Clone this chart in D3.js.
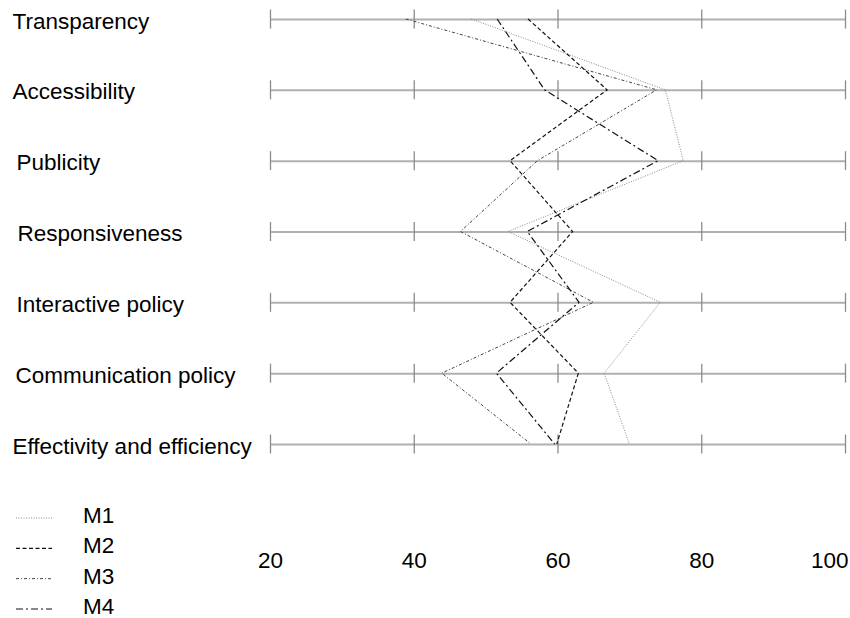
<!DOCTYPE html>
<html><head><meta charset="utf-8">
<script src="https://cdn.jsdelivr.net/npm/d3@7"></script>
<style>
body{margin:0;background:#fff}
svg{display:block}
text{font-family:"Liberation Sans",Arial,sans-serif;fill:#000}
</style>
</head><body>
<svg id="c" width="850" height="618"></svg>
<script>
const categories = ["Transparency","Accessibility","Publicity","Responsiveness","Interactive policy","Communication policy","Effectivity and efficiency"];
const seriesNames = ["M1","M2","M3","M4"];
const m1 = [48.0, 75.0, 77.5, 53.1, 74.3, 66.5, 70.0];
const m2 = [55.9, 66.9, 53.4, 62.1, 53.4, 62.9, 59.9];
const m3 = [38.9, 73.8, 57.2, 46.5, 65.0, 43.9, 56.3];
const m4 = [51.6, 58.2, 74.0, 55.8, 63.0, 51.5, 59.6];
const tickValues = [20, 40, 60, 80, 100];

// layout (not data)
const labelNudge = [0, 0, 4, 5, 4, 3, 0];
const seriesValues = [m1, m2, m3, m4];
const styles = [
  {stroke:"#8a8a8a", width:1, dash:"1,1.5"},
  {stroke:"#111", width:1.2, dash:"4,2.5"},
  {stroke:"#444", width:1, dash:"3,2,1,2"},
  {stroke:"#111", width:1.2, dash:"7,3,2,3"}
];

const svg = d3.select("#c");
const x = d3.scaleLinear().domain([20, 100]).range([270, 845]);
const y = d3.scalePoint().domain(categories).range([19, 444]);
const FS = 22.5;

// row axes
categories.forEach(c => {
  const g = svg.append("g").attr("transform", `translate(0,${y(c)})`)
    .call(d3.axisBottom(x).tickValues(tickValues).tickSize(9).tickSizeOuter(0).tickFormat(""));
  g.select(".domain").attr("stroke", "#b0b0b0").attr("stroke-width", 2);
  g.selectAll(".tick line").attr("y1", -9.5).attr("y2", 9.5).attr("stroke", "#8c8c8c").attr("stroke-width", 1.3);
});

// category labels
svg.append("g").selectAll("text").data(categories).join("text")
  .attr("x", (d, i) => 12.5 + labelNudge[i]).attr("y", d => y(d) + 9.5)
  .attr("font-size", FS).text(d => d);

// bottom tick labels
const ax = svg.append("g").attr("transform", "translate(0,552)")
  .call(d3.axisBottom(x).tickValues(tickValues).tickSize(0).tickPadding(0).tickFormat(d3.format("d")));
ax.select(".domain").remove();
ax.selectAll(".tick text").attr("font-size", FS).attr("font-family", '"Liberation Sans",Arial,sans-serif').attr("fill", "#000").attr("dy", "0.72em");
ax.selectAll(".tick").filter(d => d === 100).select("text").attr("text-anchor", "end").attr("x", 3);

// series
const line = d3.line().x(d => x(d)).y((d, i) => y(categories[i]));
svg.append("g").selectAll("path").data(seriesValues).join("path")
  .attr("d", d => line(d))
  .attr("fill", "none")
  .attr("stroke", (d, i) => styles[i].stroke)
  .attr("stroke-width", (d, i) => styles[i].width)
  .attr("stroke-dasharray", (d, i) => styles[i].dash);

// legend
const ly = d3.scaleLinear().domain([0, 3]).range([518, 609]);
const lg = svg.append("g").selectAll("g").data(seriesNames).join("g")
  .attr("transform", (d, i) => `translate(0,${ly(i)})`);
lg.append("line").attr("x1", 16).attr("x2", 52).attr("y1", 0).attr("y2", 0)
  .attr("stroke", (d, i) => styles[i].stroke)
  .attr("stroke-width", (d, i) => styles[i].width)
  .attr("stroke-dasharray", (d, i) => styles[i].dash);
lg.append("text").attr("x", 83).attr("y", 5).attr("font-size", FS).text(d => d);
</script>
</body></html>
